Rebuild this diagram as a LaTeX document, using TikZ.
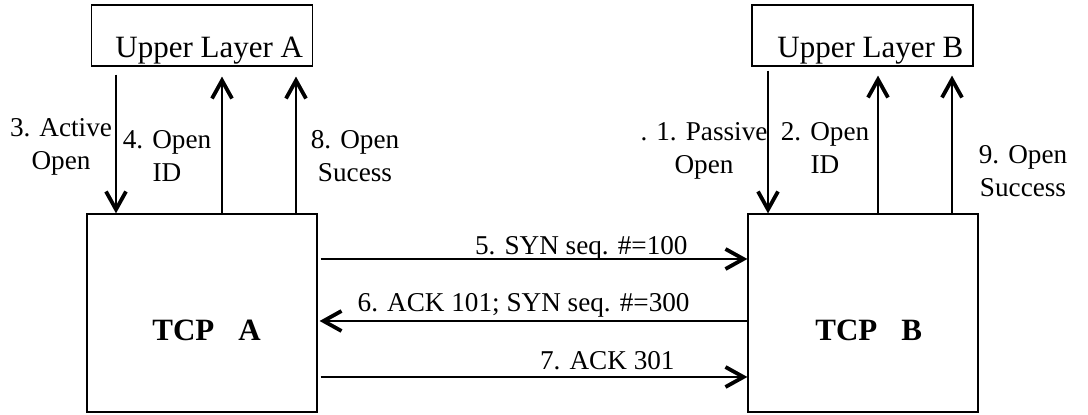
\documentclass[tikz,border=0pt]{standalone}
\usepackage{fontspec}
\setmainfont{Liberation Serif}
\usetikzlibrary{arrows.meta}

\begin{document}
\begin{tikzpicture}[x=0.5pt, y=-0.5pt,
    box/.style={draw, line width=0.6pt, inner sep=0pt},
    layerbox/.style={box, minimum width=110.5pt, minimum height=30.5pt},
    tcpbox/.style={box, minimum width=115pt, minimum height=99pt},
    msg/.style={-{Straight Barb[length=9pt, width=10pt, line width=1.9pt]}, line width=0.6pt},
    lbl/.style={inner sep=0pt, font=\fontsize{13.6}{16.75}\selectfont, align=center},
    layertext/.style={inner sep=0pt, font=\fontsize{15.5}{18}\selectfont},
    tcptext/.style={inner sep=0pt, font=\fontsize{15.5}{18}\selectfont\bfseries}]

    \useasboundingbox (0,0) rectangle (1088,415);

    % boxes
    \node [layerbox] (ulA) at (202, 35.5) {};
    \node [layerbox] (ulB) at (862.5, 35.5) {};
    \node [tcpbox] (tcpA) at (202, 313) {};
    \node [tcpbox] (tcpB) at (863, 313) {};

    \node [layertext, anchor=base west] (ulAtext) at (115, 58) {Upper Layer A};
    \node [layertext, anchor=base west] (ulBtext) at (777, 58) {Upper Layer B};
    \node [tcptext, anchor=base west] (tcpAtext) at (152, 341) {TCP\hspace{12pt}A};
    \node [tcptext, anchor=base west] (tcpBtext) at (815, 341) {TCP\hspace{12pt}B};

    % upper layer <-> tcp
    \draw [msg, shorten <=4pt] (ulA.south -| 116,0) -- (tcpA.north -| 116,0);
    \draw [msg, shorten >=5pt] (tcpA.north -| 222,0) -- (ulA.south -| 222,0);
    \draw [msg, shorten >=5pt] (tcpA.north -| 296,0) -- (ulA.south -| 296,0);
    \draw [msg, shorten <=2pt] (ulB.south -| 768,0) -- (tcpB.north -| 768,0);
    \draw [msg, shorten >=4.5pt] (tcpB.north -| 878,0) -- (ulB.south -| 878,0);
    \draw [msg, shorten >=4.5pt] (tcpB.north -| 952,0) -- (ulB.south -| 952,0);

    \node [lbl, anchor=north] (l3) at (61, 118) {3. Active\\Open};
    \node [lbl, anchor=north] (l4) at (167, 130) {4. Open\\ID};
    \node [lbl, anchor=north] (l8) at (355, 130) {8. Open\\Sucess};
    \node [lbl, anchor=north] (l1) at (704, 122) {. 1. Passive\\Open};
    \node [lbl, anchor=north] (l2) at (825, 122) {2. Open\\ID};
    \node [lbl, anchor=north] (l9) at (1023, 145) {9. Open\\Success};

    % handshake
    \draw [msg, shorten <=1.5pt] (tcpA.east |- 0,259) -- (tcpB.west |- 0,259);
    \draw [msg, shorten >=1pt] (tcpB.west |- 0,321) -- (tcpA.east |- 0,321);
    \draw [msg, shorten <=1.5pt] (tcpA.east |- 0,377) -- (tcpB.west |- 0,377);

    \node [lbl, anchor=base east] (l5) at (688, 255) {5. SYN seq. \#=100};
    \node [lbl, anchor=base east] (l6) at (690, 312) {6. ACK 101; SYN seq. \#=300};
    \node [lbl, anchor=base east] (l7) at (675, 370) {7. ACK 301};
\end{tikzpicture}
\end{document}
